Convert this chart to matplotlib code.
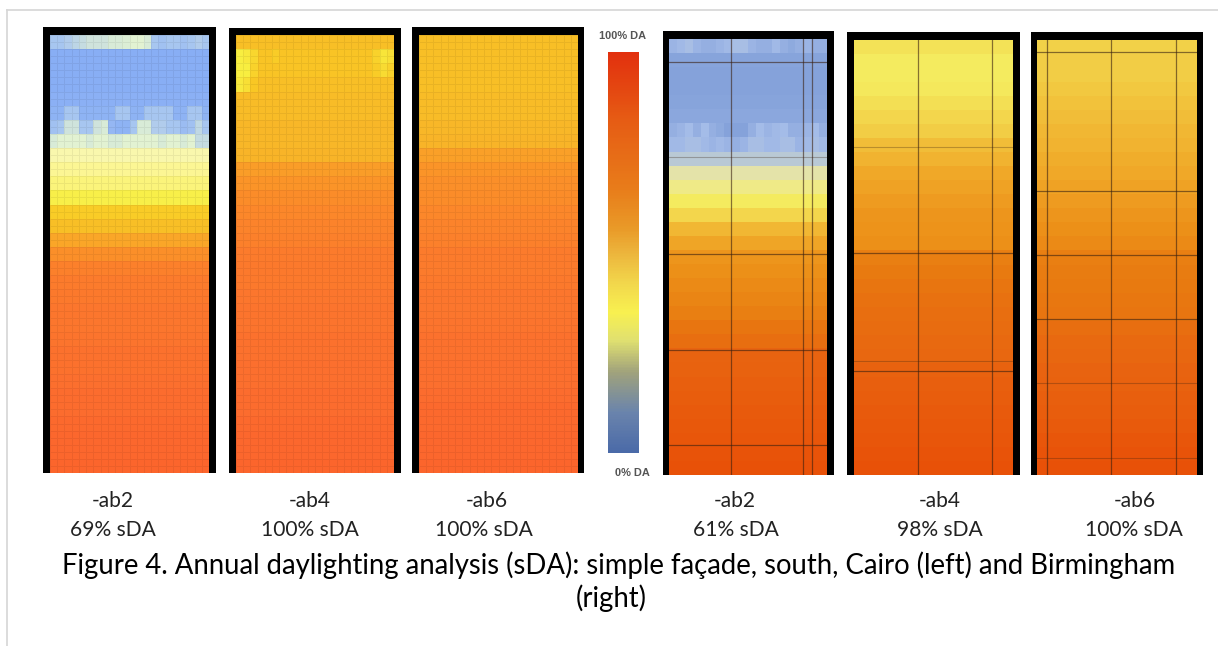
import numpy as np
import matplotlib
matplotlib.use("Agg")
import matplotlib.pyplot as plt
from matplotlib.colors import LinearSegmentedColormap, Normalize
from matplotlib.patches import Rectangle
from matplotlib.lines import Line2D
from matplotlib.cm import ScalarMappable

# ---------------- data (daylight autonomy fraction, top row -> bottom row) -------------
panel_names = ["-ab2", "-ab4", "-ab6", "-ab2", "-ab4", "-ab6"]
panel_sda = ["69% sDA", "100% sDA", "100% sDA", "61% sDA", "98% sDA", "100% sDA"]

cairo_ab2 = [0.30, 0.20, 0.20, 0.20, 0.21, 0.23, 0.30, 0.41, 0.49, 0.52, 0.55, 0.59,
             0.67, 0.70, 0.76, 0.81, 0.85, 0.86, 0.87, 0.88, 0.88, 0.89, 0.90, 0.90,
             0.91, 0.92, 0.92, 0.93, 0.94, 0.94, 0.95]
cairo_ab4 = [0.70, 0.69, 0.69, 0.70, 0.71, 0.71, 0.72, 0.72, 0.73, 0.78, 0.80, 0.82,
             0.83, 0.84, 0.85, 0.86, 0.87, 0.87, 0.88, 0.89, 0.89, 0.90, 0.90, 0.91,
             0.91, 0.92, 0.92, 0.93, 0.94, 0.94, 0.95]
cairo_ab6 = [0.70, 0.70, 0.70, 0.70, 0.71, 0.71, 0.72, 0.73, 0.77, 0.80, 0.81, 0.82,
             0.83, 0.84, 0.85, 0.86, 0.86, 0.87, 0.88, 0.88, 0.89, 0.90, 0.90, 0.91,
             0.91, 0.92, 0.93, 0.93, 0.94, 0.94, 0.95]
bham_ab2 = [0.20, 0.16, 0.15, 0.15, 0.16, 0.17, 0.19, 0.21, 0.30, 0.40, 0.45, 0.50,
            0.55, 0.61, 0.65, 0.70, 0.72, 0.74, 0.76, 0.78, 0.82, 0.84, 0.88, 0.89,
            0.90, 0.91, 0.92, 0.93, 0.94, 0.95, 0.96]
bham_ab4 = [0.52, 0.50, 0.50, 0.51, 0.53, 0.55, 0.57, 0.60, 0.62, 0.64, 0.66, 0.68,
            0.70, 0.71, 0.72, 0.78, 0.80, 0.82, 0.83, 0.84, 0.85, 0.86, 0.87, 0.89,
            0.90, 0.91, 0.92, 0.93, 0.94, 0.95, 0.96]
bham_ab6 = [0.56, 0.57, 0.57, 0.58, 0.59, 0.60, 0.61, 0.62, 0.63, 0.64, 0.66, 0.68,
            0.70, 0.72, 0.74, 0.78, 0.79, 0.80, 0.81, 0.82, 0.84, 0.86, 0.87, 0.88,
            0.89, 0.90, 0.91, 0.92, 0.94, 0.95, 0.96]

# irregular rows (row index -> values per column)
cairo_ab2_rows = {
    0: [0.30, 0.30, 0.32, 0.34, 0.36, 0.38, 0.38, 0.38, 0.40, 0.40, 0.41, 0.42,
        0.42, 0.40, 0.30, 0.28, 0.30, 0.30, 0.28, 0.30, 0.32, 0.30],
    5: [0.22, 0.22, 0.30, 0.30, 0.22, 0.22, 0.22, 0.22, 0.22, 0.30, 0.30, 0.22,
        0.22, 0.30, 0.30, 0.30, 0.30, 0.22, 0.22, 0.30, 0.30, 0.22],
    6: [0.28, 0.30, 0.38, 0.38, 0.30, 0.30, 0.38, 0.40, 0.24, 0.22, 0.22, 0.30,
        0.40, 0.40, 0.32, 0.32, 0.30, 0.30, 0.26, 0.28, 0.35, 0.30],
    7: [0.40, 0.42, 0.42, 0.42, 0.42, 0.40, 0.42, 0.42, 0.40, 0.40, 0.42, 0.42,
        0.42, 0.42, 0.42, 0.40, 0.42, 0.42, 0.40, 0.42, 0.36, 0.36],
}
cairo_ab4_rows = {
    1: [0.60, 0.61, 0.65, 0.69, 0.69, 0.67, 0.69, 0.69, 0.69, 0.69, 0.69, 0.69,
        0.69, 0.69, 0.69, 0.69, 0.69, 0.69, 0.69, 0.66, 0.62, 0.63],
    2: [0.60, 0.60, 0.66, 0.69, 0.69, 0.69, 0.69, 0.69, 0.69, 0.69, 0.69, 0.69,
        0.69, 0.69, 0.69, 0.69, 0.69, 0.69, 0.69, 0.67, 0.64, 0.66],
    3: [0.61, 0.63, 0.68, 0.70, 0.70, 0.70, 0.70, 0.70, 0.70, 0.70, 0.70, 0.70,
        0.70, 0.70, 0.70, 0.70, 0.70, 0.70, 0.70, 0.70, 0.70, 0.70],
}
bham_ab2_rows = {
    0: [0.22, 0.24, 0.26, 0.22, 0.20, 0.20, 0.22, 0.24, 0.26, 0.26, 0.22, 0.20,
        0.20, 0.24, 0.20, 0.18, 0.20, 0.22, 0.20, 0.20],
    6: [0.20, 0.22, 0.25, 0.20, 0.25, 0.20, 0.18, 0.15, 0.15, 0.15, 0.20, 0.25,
        0.22, 0.24, 0.25, 0.20, 0.20, 0.22, 0.25, 0.20],
    7: [0.24, 0.24, 0.26, 0.26, 0.24, 0.22, 0.24, 0.22, 0.20, 0.22, 0.26, 0.26,
        0.24, 0.24, 0.26, 0.26, 0.22, 0.24, 0.26, 0.24],
}

caption_line1 = "Figure 4. Annual daylighting analysis (sDA): simple façade, south, Cairo (left) and Birmingham"
caption_line2 = "(right)"
cbar_top_label = "100% DA"
cbar_bottom_label = "0% DA"

# ---------------- colours ----------------
cairo_cmap = LinearSegmentedColormap.from_list("cairo", [
    (0.00, "#6a96ee"), (0.20, "#88aef5"), (0.30, "#a8c6f0"), (0.42, "#e2f2d2"),
    (0.50, "#fcf8a8"), (0.55, "#fbf47a"), (0.60, "#f8ee40"), (0.68, "#f9c824"),
    (0.72, "#f8b828"), (0.80, "#fb9428"), (0.86, "#fc7c2c"), (0.92, "#fc6c2e"),
    (1.00, "#fc5a2a")])
bham_cmap = LinearSegmentedColormap.from_list("bham", [
    (0.00, "#7090d2"), (0.15, "#85a2da"), (0.25, "#a4bce8"), (0.35, "#d0d8c0"),
    (0.42, "#ece8a0"), (0.50, "#f4ec60"), (0.58, "#f2c840"), (0.64, "#f0a828"),
    (0.72, "#ec9018"), (0.80, "#e87a10"), (0.88, "#e86410"), (1.00, "#e84804")])
legend_cmap = LinearSegmentedColormap.from_list("legend", [
    (0.00, "#4a6aa8"), (0.10, "#6a84ac"), (0.20, "#a0a27c"), (0.28, "#e0e070"),
    (0.35, "#f8f050"), (0.42, "#f2d84c"), (0.50, "#ecb43c"), (0.56, "#e99a28"),
    (0.66, "#e87c1a"), (0.83, "#e65c14"), (1.00, "#e2300e")])

# ---------------- figure ----------------
W, H = 1218, 646
fig = plt.figure(figsize=(W / 100, H / 100), dpi=100)
fig.patch.set_facecolor("white")


def add_ax(x0, y0, x1, y1):
    return fig.add_axes([x0 / W, 1 - y1 / H, (x1 - x0) / W, (y1 - y0) / H])


def rect(x0, y0, x1, y1, color):
    fig.add_artist(Rectangle((x0 / W, 1 - y1 / H), (x1 - x0) / W, (y1 - y0) / H,
                             transform=fig.transFigure, facecolor=color,
                             edgecolor="none", zorder=5))


def build(profile, ncols, overrides):
    arr = np.tile(np.asarray(profile, float)[:, None], (1, ncols))
    for r, vals in overrides.items():
        arr[r, :] = vals
    return arr


def panel(outer, inner, data, cmap, fine, grid_v=(), grid_h=(), faint_h=()):
    ox0, oy0, ox1, oy1 = outer
    ix0, iy0, ix1, iy1 = inner
    ax = add_ax(ix0, iy0, ix1, iy1)
    if fine:
        d = np.repeat(data, 2, axis=0)
        ax.pcolormesh(d, cmap=cmap, vmin=0, vmax=1, edgecolors=(0, 0, 0, 0.06),
                      linewidth=0.5)
    else:
        d = data
        ax.pcolormesh(d, cmap=cmap, vmin=0, vmax=1, edgecolors="none")
    nr, nc = d.shape
    ax.set_xlim(0, nc)
    ax.set_ylim(nr, 0)
    ax.axis("off")
    for fxp in grid_v:
        ax.axvline(fxp * nc, color="#3a2010", alpha=0.6, lw=0.9)
    for fyp in grid_h:
        ax.axhline(fyp * nr, color="#3a2010", alpha=0.6, lw=0.9)
    for fyp in faint_h:
        ax.axhline(fyp * nr, color="#3a2010", alpha=0.3, lw=0.8)
    # black frame (top, left, right)
    rect(ox0, oy0, ox1, iy0, "black")
    rect(ox0, oy0, ix0, oy1, "black")
    rect(ix1, oy0, ox1, oy1, "black")


NC_C, NC_B = 22, 20
panel((43, 27, 216, 473), (50, 35, 209, 473), build(cairo_ab2, NC_C, cairo_ab2_rows), cairo_cmap, True)
panel((229, 28, 401, 473), (236, 35, 394, 473), build(cairo_ab4, NC_C, cairo_ab4_rows), cairo_cmap, True)
panel((412, 27, 584, 473), (419, 35, 578, 473), build(cairo_ab6, NC_C, {}), cairo_cmap, True)
panel((663, 31, 834, 475), (669, 39, 827, 475), build(bham_ab2, NC_B, bham_ab2_rows), bham_cmap, False,
      grid_v=(0.392, 0.848, 0.905), grid_h=(0.053, 0.493, 0.713, 0.931), faint_h=(0.27,))
panel((847, 32, 1020, 475), (854, 40, 1013, 475), build(bham_ab4, NC_B, {}), bham_cmap, False,
      grid_v=(0.403, 0.868), grid_h=(0.49, 0.761), faint_h=(0.246, 0.738))
panel((1031, 32, 1203, 475), (1037, 40, 1197, 475), build(bham_ab6, NC_B, {}), bham_cmap, False,
      grid_v=(0.0625, 0.4625, 0.869), grid_h=(0.028, 0.347, 0.494, 0.641), faint_h=(0.789, 0.961))

# colour legend
cax = add_ax(608, 52, 639, 453)
cb = fig.colorbar(ScalarMappable(norm=Normalize(0, 1), cmap=legend_cmap), cax=cax)
cb.outline.set_visible(False)
cb.set_ticks([])

# outer light frame (left and top only)
fig.add_artist(Line2D([7 / W, 7 / W], [0, 1 - 10 / H], transform=fig.transFigure,
                      color="#d6d6d6", lw=1.2))
fig.add_artist(Line2D([7 / W, 1], [1 - 10 / H, 1 - 10 / H], transform=fig.transFigure,
                      color="#d6d6d6", lw=1.2))

renderer = fig.canvas.get_renderer()


def fitted_size(s, width, family, weight="normal"):
    t = fig.text(0, 0, s, fontsize=10, family=family, fontweight=weight)
    bb = t.get_window_extent(renderer)
    t.remove()
    return 10 * width / bb.width


def put(s, cx, cy, size, family, color, weight="normal"):
    fig.text(cx / W, 1 - cy / H, s, ha="center", va="center", fontsize=size,
             family=family, color=color, fontweight=weight)


label_font = ["Lato", "DejaVu Sans"]
label_size = fitted_size("100% sDA", 98, label_font)
name_pos = [(113, 501), (310, 501), (487, 501), (735, 501), (940, 501), (1135, 501)]
sda_pos = [(113, 530), (310, 530), (484, 530), (736, 530), (940, 530), (1134, 530)]
for s, (cx, cy) in zip(panel_names, name_pos):
    put(s, cx, cy, label_size, label_font, "#222222")
for s, (cx, cy) in zip(panel_sda, sda_pos):
    put(s, cx, cy, label_size, label_font, "#222222")

cb_font = ["Liberation Sans", "DejaVu Sans"]
cb_size = fitted_size(cbar_top_label, 47, cb_font, "bold")
put(cbar_top_label, 623, 36, cb_size, cb_font, "#555555", "bold")
put(cbar_bottom_label, 632, 473, cb_size, cb_font, "#555555", "bold")

cap_font = ["Lato", "DejaVu Sans"]
cap_size = fitted_size(caption_line1, 1115, cap_font)
put(caption_line1, 619, 565, cap_size, cap_font, "black")
put(caption_line2, 611, 598, cap_size, cap_font, "black")

fig.savefig("out.png", dpi=100, facecolor="white")
